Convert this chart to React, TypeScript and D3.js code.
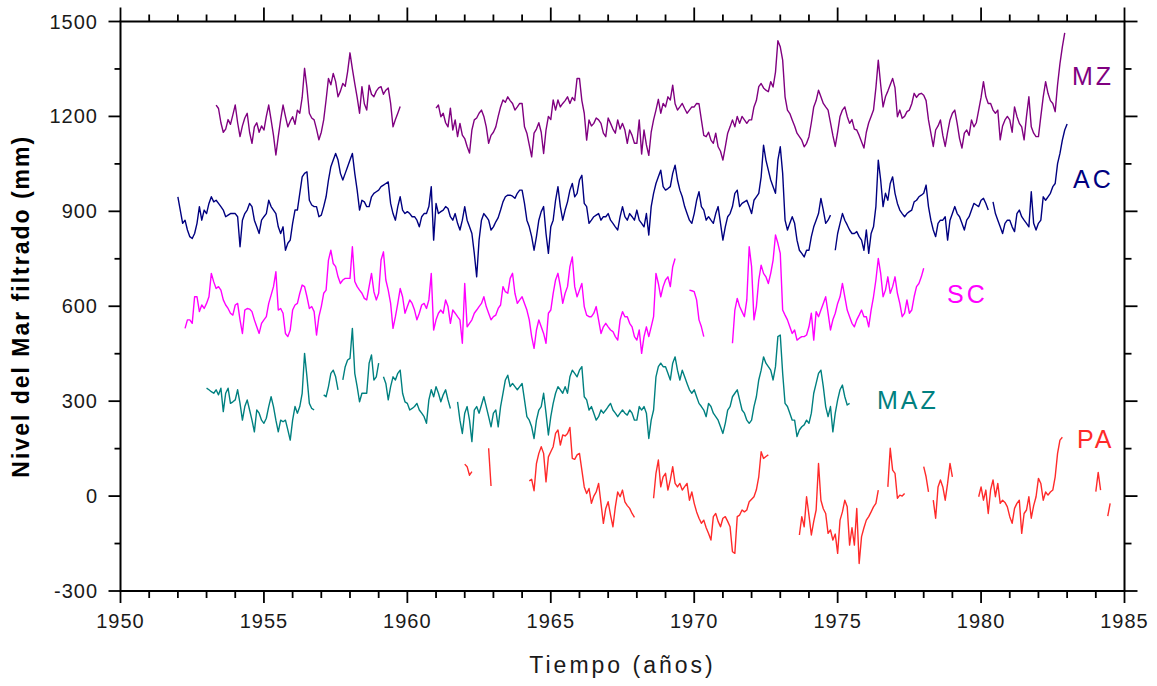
import React from 'react';
import * as d3 from 'd3';

const _ = null;

// x axis (years) and y axis (mm) ticks
const X_MAJOR = [1950, 1955, 1960, 1965, 1970, 1975, 1980, 1985];
const Y_MAJOR = [-300, 0, 300, 600, 900, 1200, 1500];

// Monthly filtered sea level (mm). Each series: first month (decimal year) + monthly values, null = gap
const MZ_START = 1953 + 4 / 12;
const MZ = [
  1236, 1225, 1180, 1150, 1160, 1190, 1175, 1205,
  1236, 1180, 1136, 1170, 1195, 1210, 1150, 1115, 1167, 1180, 1150, 1170,
  1157, 1200, 1236, 1189, 1140, 1078, 1136, 1190, 1236, 1200, 1167, 1185,
  1199, 1175, 1220, 1210, 1260, 1352, 1290, 1210, 1195, 1189, 1160, 1126,
  1150, 1189, 1252, 1320, 1300, 1336, 1310, 1262, 1280, 1304, 1295, 1341,
  1401, 1350, 1304, 1260, 1210, 1294, 1240, 1220, 1299, 1270, 1262, 1280,
  1290, 1294, 1270, 1283, 1290, 1241, 1167, 1190, 1210, 1231, _, _,
  _, _, _, _, _, _, _, _, _, _, _, _,
  1226, 1236, 1199, 1210, 1180, 1167, 1226, 1157, 1189, 1136, 1178, 1141,
  1130, 1105, 1084, 1157, 1189, 1195, 1210, 1220, 1200, 1167, 1115, 1140,
  1150, 1167, 1200, 1230, 1252, 1245, 1262, 1250, 1241, 1220, 1230, 1241,
  1241, 1167, 1147, 1110, 1072, 1147, 1160, 1180, 1150, 1083, 1157, 1200,
  1190, 1252, 1220, 1252, 1230, 1241, 1250, 1262, 1241, 1260, 1250, 1320,
  1320, 1250, 1210, 1125, 1189, 1170, 1178, 1195, 1189, 1178, 1147, 1136,
  1195, 1178, 1160, 1147, 1189, 1160, 1178, 1157, 1115, 1157, 1140, 1115,
  1115, 1189, 1081, 1157, 1110, 1077, 1150, 1189, 1220, 1254, 1210, 1241,
  1230, 1262, 1252, 1299, 1240, 1220, 1230, 1241, 1225, 1210, 1220, 1230,
  1230, 1241, 1240, 1189, 1140, 1136, 1150, 1125, 1115, 1147, 1104, 1090,
  1062, 1104, 1147, 1167, 1189, 1167, 1200, 1178, 1200, 1189, 1178, 1189,
  1189, 1230, 1250, 1294, 1304, 1290, 1283, 1278, 1310, 1293, 1340, 1439,
  1420, 1378, 1262, 1220, 1209, 1189, 1170, 1147, 1136, 1125, 1104, 1115,
  1136, 1180, 1230, 1250, 1283, 1262, 1241, 1230, 1220, 1180, 1140, 1105,
  1150, 1200, 1220, 1230, 1200, 1178, 1190, 1160, 1157, 1140, 1120, 1100,
  1150, 1180, 1200, 1220, 1290, 1378, 1300, 1230, 1262, 1280, 1300, 1320,
  1290, 1199, 1220, 1194, 1200, 1215, 1220, 1240, 1273, 1260, 1270, 1273,
  1267, 1250, 1189, 1147, 1105, 1157, 1170, 1189, 1140, 1105, 1150, 1189,
  1210, 1220, 1178, 1130, 1100, 1147, 1157, 1140, 1189, 1167, 1180, 1220,
  1260, 1310, 1262, 1241, 1241, 1220, 1210, 1220, 1126, 1170, 1189, 1200,
  1189, 1150, 1230, 1200, 1178, 1167, 1126, 1200, 1262, 1167, 1147, 1136,
  1136, 1200, 1262, 1310, 1273, 1250, 1241, 1215, 1300, 1367, 1420, 1464,
];

const AC_START = 1952;
const AC = [
  946, 904, 862, 872, 841, 820, 814, 830, 862, 915, 872, 904,
  893, 925, 946, 930, 935, 925, 915, 904, 883, 888, 893, 893,
  893, 883, 788, 872, 893, 904, 925, 915, 872, 851, 830, 872,
  883, 893, 935, 915, 904, 893, 851, 830, 851, 777, 799, 809,
  862, 904, 904, 957, 1009, 1020, 1025, 935, 920, 915, 915, 883,
  888, 915, 946, 999, 1041, 1062, 1083, 1062, 1020, 999, 1020, 1041,
  1062, 1083, 1020, 967, 904, 935, 930, 915, 915, 946, 957, 962,
  967, 978, 983, 988, 993, 925, 893, 872, 915, 946, 904, 893,
  899, 893, 883, 883, 872, 851, 883, 893, 893, 915, 978, 809,
  925, 893, 899, 904, 915, 909, 883, 872, 893, 862, 841, 872,
  915, 872, 851, 830, 767, 693, 809, 872, 893, 883, 872, 841,
  851, 867, 880, 904, 930, 946, 951, 951, 948, 941, 957, 967,
  967, 925, 872, 851, 820, 777, 820, 872, 899, 915, 830, 767,
  851, 872, 935, 978, 915, 872, 904, 930, 967, 988, 946, 957,
  999, 1014, 925, 915, 862, 872, 883, 888, 893, 872, 883, 883,
  893, 872, 862, 851, 841, 883, 915, 883, 872, 893, 883, 872,
  904, 872, 862, 851, 893, 825, 915, 957, 988, 1009, 1030, 978,
  967, 972, 978, 1020, 1046, 999, 967, 946, 915, 893, 872, 862,
  893, 935, 962, 915, 904, 872, 883, 872, 862, 893, 915, 862,
  809, 851, 883, 893, 915, 957, 967, 915, 925, 930, 935, 915,
  893, 935, 946, 957, 1009, 1109, 1062, 1030, 999, 978, 957, 1062,
  1104, 1020, 872, 841, 862, 883, 862, 809, 777, 767, 756, 777,
  777, 820, 851, 872, 893, 941, 904, 862, 872, 888, _, 777,
  830, 862, 893, 872, 857, 841, 830, 830, 836, 820, 809, 777,
  841, 767, 830, 851, 915, 1062, 999, 915, 957, 935, 988, 1009,
  957, 925, 904, 893, 883, 893, 899, 904, 930, 935, 946, 951,
  957, 983, 915, 872, 841, 820, 862, 872, 872, 883, 809, 872,
  893, 915, 893, 883, 862, 841, 872, 883, 904, 925, 920, 915,
  935, 941, 925, 904, _, 930, 893, 872, 851, 830, 862, 872,
  872, 851, 836, 893, 904, 883, 872, 862, 851, 962, 862, 841,
  862, 872, 946, 935, 946, 957, 978, 988, 1051, 1083, 1125, 1157,
  1176,
];

const SC_START = 1952 + 3 / 12;
const SC = [
  530, 557, 557, 546, 630, 630, 583, 604, 593,
  609, 630, 704, 677, 656, 662, 651, 620, 604, 593, 578, 572,
  604, 609, 557, 514, 588, 593, 591, 583, 557, 535, 514, 546,
  557, 567, 609, 635, 662, 709, 588, 593, 578, 514, 504, 525,
  588, 604, 609, 641, 667, 662, 630, 593, 599, 583, 509, 567,
  599, 641, 651, 746, 777, 735, 725, 693, 672, 683, 688, 688,
  688, 788, 678, 662, 651, 641, 625, 620, 662, 704, 646, 620,
  641, 746, 772, 683, 651, 609, 530, 567, 609, 656, 630, 578,
  599, 620, 609, 588, 557, 578, 604, 609, 593, 620, 704, 525,
  557, 578, 588, 578, 620, 599, 546, 588, 578, 567, 557, 483,
  672, 535, 546, 557, 578, 588, 599, 609, 630, 599, 578, 557,
  567, 572, 593, 604, 662, 646, 641, 688, 704, 641, 609, 620,
  630, 609, 588, 557, 504, 467, 525, 557, 535, 514, 483, 578,
  588, 641, 683, 704, 662, 609, 641, 662, 725, 756, 662, 630,
  651, 672, 599, 572, 567, 567, 578, 599, 557, 514, 535, 546,
  535, 525, 520, 504, 493, 557, 583, 567, 567, 546, 535, 504,
  493, 525, 451, 504, 535, 504, 535, 567, 704, 672, 630, 662,
  683, 693, 662, 725, 751, _, _, _, _, _, 651, 649,
  646, 620, 557, 535, 504, _, _, _, _, _, _, _,
  _, _, _, _, 483, 588, 625, 599, 583, 567, 620, 788,
  725, 557, 599, 683, 730, 704, 693, 672, 704, 746, 825, 799,
  767, 588, 572, 557, 535, 514, 525, 493, 499, 504, 504, 509,
  535, 578, 493, 583, 567, 588, 609, 630, 578, 525, 557, 578,
  609, 630, 672, 630, 588, 567, 546, 535, 557, 572, 588, 567,
  567, 535, 588, 630, 683, 751, 704, 630, 651, 693, 641, 662,
  693, 641, 609, 567, 578, 620, 578, 588, 630, 662, 672, 693,
  720,
];

const MAZ_START = 1953;
const MAZ = [
  341, 336, 330, 325, 336, 320, 341, 267, 325, 341, 293, 298,
  304, 336, 293, 240, 283, 304, 272, 240, 203, 272, 262, 240,
  230, 246, 283, 314, 283, 240, 203, 240, 235, 240, 209, 177,
  240, 283, 262, 283, 325, 451, 377, 293, 277, 272, _, _,
  _, 320, 314, 346, 388, 398, 377, 336, _, 367, 409, 430,
  435, 530, 388, 346, 298, 325, 325, 325, 420, 446, 367, 377,
  420, _, 377, 356, 304, 346, 377, 367, 388, 398, 325, 298,
  293, 272, 277, 283, 293, 272, 262, 251, 230, 304, 336, 314,
  346, 325, 298, 320, 336, 304, 277, _, _, 298, 240, 198,
  262, 283, 240, 172, 272, 283, 262, 288, 314, 283, 251, 219,
  262, 272, 219, 283, 325, 367, 382, 346, 356, 346, 336, 346,
  356, 304, 251, 240, 219, 182, 240, 272, 283, 325, 262, 193,
  251, 293, 325, 346, 336, 325, 346, 325, 377, 398, 388, 377,
  398, 409, 314, 304, 272, 283, 262, 240, 251, 272, 262, 272,
  283, 293, 272, 262, 251, 262, 272, 262, 256, 272, 262, 240,
  240, 283, 272, 283, 262, 182, 240, 272, 377, 409, 420, 409,
  409, 388, 367, 420, 440, 398, 367, 398, 377, 356, 336, 325,
  336, 314, 293, 283, 272, 251, 293, 283, 262, 251, 240, 219,
  198, 230, 272, 283, 314, 325, 336, 304, 272, 262, 240, 230,
  240, 283, 314, 367, 398, 440, 420, 409, 398, 367, 409, 504,
  509, 388, 293, 283, 262, 240, 240, 188, 209, 219, 225, 240,
  230, 262, 325, 356, 388, 398, 346, 283, 251, 283, 203, 262,
  304, 336, 351, 314, 288, 293,
];

const PA_START = 1962;
const PA = [
  101, 93, 66, 77, _, _, _, _, _, _, 151, 32,
  _, _, _, _, _, _, _, _, _, _, _, _,
  _, _, _, 48, 53, 17, 103, 135, 156, 135, 45, 124,
  140, 156, 198, 209, 161, 193, 190, 198, 217, 119, 116, 130,
  135, 82, 29, 8, 24, -23, 0, 13, 40, -23, -86, -39,
  -18, -60, -97, -34, 13, -2, 19, -18, -30, -39, -55, -67,
  _, _, _, _, _, _, _, -7, 72, 114, 29, 61,
  72, 19, 51, 93, 40, 29, 40, 19, 30, 40, -13, 13,
  -23, -50, -70, -86, -76, -100, -118, -139, -65, -55, -80, -97,
  -70, -65, -80, -97, -176, -181, -65, -60, -44, -50, -44, -18,
  -10, -2, 20, 61, 140, 119, 125, 130, _, _, _, _,
  _, _, _, _, _, _, _, _, -123, -65, -97, -2,
  -60, -123, -80, -44, 103, -13, -40, -55, -118, -107, -139, -120,
  -181, -76, -50, -13, -34, -155, -100, -155, -39, -213, -128, -100,
  -76, -65, -50, -34, -23, 19, _, _, _, 29, 151, 82,
  72, -7, 3, 0, 8, _, _, _, _, _, _, _,
  93, 61, 13, _, -13, -70, 29, 51, 29, -13, 40, 103,
  61, _, _, _, _, _, _, _, _, _, _, -2,
  29, -13, 19, -55, 20, 51, -2, 40, -23, -13, -20, -34,
  -65, -86, -39, -23, -13, -118, -55, -44, -2, -70, -30, -2,
  56, 40, -13, 13, 3, 13, 19, 61, 135, 177, 186, _,
  _, _, _, _, _, _, _, _, _, _, _, _,
  14, 75, 19, _, _, -63, -23,
];

const SERIES = [
  { name: 'MZ', start: MZ_START, values: MZ, color: '#800080', lx: 1072, ly: 85 },
  { name: 'AC', start: AC_START, values: AC, color: '#000080', lx: 1073, ly: 188 },
  { name: 'SC', start: SC_START, values: SC, color: '#ff00ff', lx: 947, ly: 303 },
  { name: 'MAZ', start: MAZ_START, values: MAZ, color: '#008080', lx: 877, ly: 409 },
  { name: 'PA', start: PA_START, values: PA, color: '#ff2a2a', lx: 1077, ly: 448 },
];

type Pt = { t: number; v: number | null };

export default function App() {
  const W = 1157;
  const H = 686;
  const L = 120.5, R = 1124.5, T = 21.5, B = 591;
  const x = d3.scaleLinear().domain([1950, 1985]).range([L, R]);
  const y = d3.scaleLinear().domain([-300, 1500]).range([B, T]);

  const line = d3
    .line<Pt>()
    .defined((d) => d.v != null)
    .x((d) => x(d.t))
    .y((d) => y(d.v as number));

  const xMinor = d3.range(1950, 1986, 1).filter((v) => v % 5 !== 0);
  const yMinor = d3.range(-150, 1500, 300);

  const font = "'Liberation Sans', Arial, sans-serif";
  const axisColor = '#000';
  const textColor = '#1a1a1a';

  return (
    <svg
      width={W}
      height={H}
      style={{ position: 'absolute', left: 0, top: 0, background: '#fff' }}
    >
      <rect x={0} y={0} width={W} height={H} fill="#fff" />
      {/* data lines */}
      <g fill="none" strokeWidth={1.4} strokeLinejoin="round">
        {SERIES.map((s) => {
          const pts: Pt[] = s.values.map((v, i) => ({ t: s.start + i / 12, v }));
          return <path key={s.name} d={line(pts) || ''} stroke={s.color} />;
        })}
      </g>
      {/* frame */}
      <rect x={L} y={T} width={R - L} height={B - T} fill="none" stroke={axisColor} strokeWidth={2} />
      {/* bottom/top ticks */}
      <g stroke={axisColor} strokeWidth={1.8}>
        {X_MAJOR.map((v) => (
          <g key={'xm' + v}>
            <line x1={x(v)} x2={x(v)} y1={B} y2={B + 12} />
            <line x1={x(v)} x2={x(v)} y1={T} y2={T - 14} />
          </g>
        ))}
        {xMinor.map((v) => (
          <g key={'xn' + v}>
            <line x1={x(v)} x2={x(v)} y1={B} y2={B + 7} />
            <line x1={x(v)} x2={x(v)} y1={T} y2={T - 7} />
          </g>
        ))}
        {Y_MAJOR.map((v) => (
          <g key={'ym' + v}>
            <line x1={L} x2={L - 12} y1={y(v)} y2={y(v)} />
            <line x1={R} x2={R + 13} y1={y(v)} y2={y(v)} />
          </g>
        ))}
        {yMinor.map((v) => (
          <g key={'yn' + v}>
            <line x1={L} x2={L - 6} y1={y(v)} y2={y(v)} />
            <line x1={R} x2={R + 7} y1={y(v)} y2={y(v)} />
          </g>
        ))}
      </g>
      {/* tick labels */}
      <g fontFamily={font} fontSize={20} fill={textColor} letterSpacing={1}>
        {X_MAJOR.map((v) => (
          <text key={'xl' + v} x={x(v)} y={628} textAnchor="middle">
            {v}
          </text>
        ))}
        {Y_MAJOR.map((v) => (
          <text key={'yl' + v} x={98} y={y(v) + 7} textAnchor="end">
            {v}
          </text>
        ))}
      </g>
      {/* axis titles */}
      <text
        x={(L + R) / 2}
        y={673}
        textAnchor="middle"
        fontFamily={font}
        fontSize={23}
        letterSpacing={3}
        fill={textColor}
      >
        Tiempo (años)
      </text>
      <text
        transform={`translate(29,${(T + B) / 2}) rotate(-90)`}
        textAnchor="middle"
        fontFamily={font}
        fontSize={23}
        fontWeight="bold"
        letterSpacing={2}
        fill="#000"
      >
        Nivel del Mar filtrado (mm)
      </text>
      {/* series labels */}
      <g fontFamily={font} fontSize={25} letterSpacing={3}>
        {SERIES.map((s) => (
          <text key={'lab' + s.name} x={s.lx} y={s.ly} fill={s.color}>
            {s.name}
          </text>
        ))}
      </g>
    </svg>
  );
}
